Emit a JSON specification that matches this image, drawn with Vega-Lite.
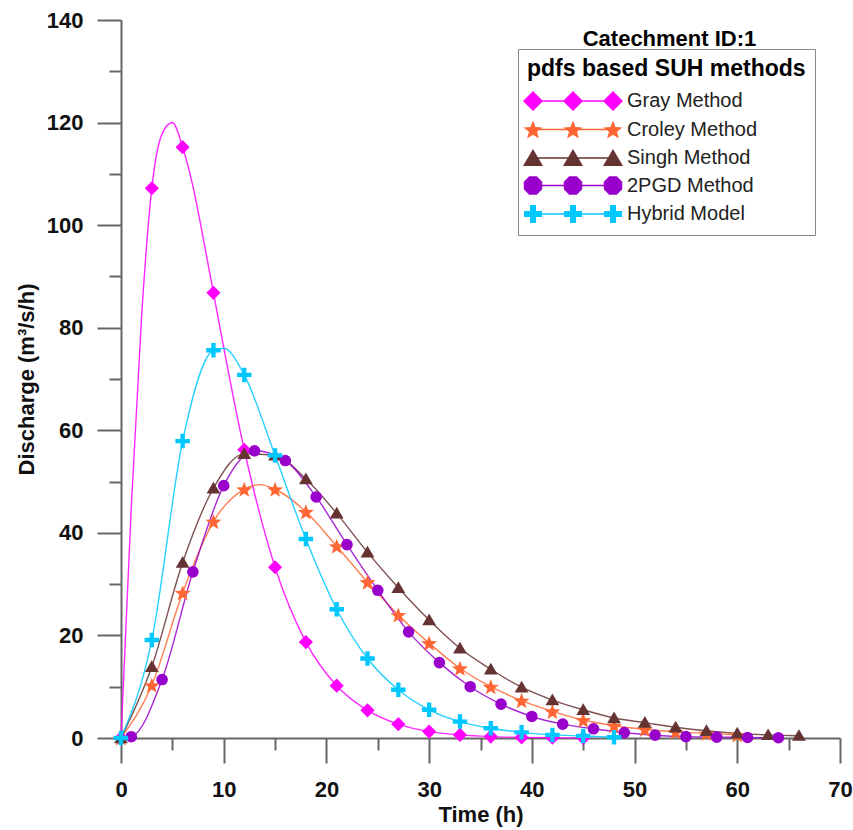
{
  "$schema": "https://vega.github.io/schema/vega-lite/v6.json",
  "width": 719,
  "height": 718,
  "autosize": "none",
  "padding": {"left": 121, "top": 20, "right": 13, "bottom": 92},
  "background": "white",
  "config": {"view": {"stroke": null}, "font": "Liberation Sans"},
  "title": {"text": "Catechment ID:1", "fontSize": 22, "fontWeight": "bold", "font": "Liberation Sans", "color": "#000", "anchor": "middle", "frame": "group", "dx": 189, "offset": -42},
  "data": {"values": [
    {"series": "Gray Method", "t": 0, "q": 0}, {"series": "Gray Method", "t": 1, "q": 45}, {"series": "Gray Method", "t": 2, "q": 82}, {"series": "Gray Method", "t": 3, "q": 107.2}, {"series": "Gray Method", "t": 4, "q": 117.8}, {"series": "Gray Method", "t": 5, "q": 120}, {"series": "Gray Method", "t": 6, "q": 115.2}, {"series": "Gray Method", "t": 7, "q": 107.6}, {"series": "Gray Method", "t": 8, "q": 97.5}, {"series": "Gray Method", "t": 9, "q": 86.8}, {"series": "Gray Method", "t": 12, "q": 56.2}, {"series": "Gray Method", "t": 15, "q": 33.3}, {"series": "Gray Method", "t": 18, "q": 18.7}, {"series": "Gray Method", "t": 21, "q": 10.2}, {"series": "Gray Method", "t": 24, "q": 5.4}, {"series": "Gray Method", "t": 27, "q": 2.7}, {"series": "Gray Method", "t": 30, "q": 1.25}, {"series": "Gray Method", "t": 33, "q": 0.6}, {"series": "Gray Method", "t": 36, "q": 0.27}, {"series": "Gray Method", "t": 39, "q": 0.12}, {"series": "Gray Method", "t": 42, "q": 0.05}, {"series": "Gray Method", "t": 45, "q": 0.02},
    {"series": "Croley Method", "t": 0, "q": 0}, {"series": "Croley Method", "t": 3, "q": 10.3}, {"series": "Croley Method", "t": 6, "q": 28.3}, {"series": "Croley Method", "t": 9, "q": 42.2}, {"series": "Croley Method", "t": 12, "q": 48.5}, {"series": "Croley Method", "t": 13.5, "q": 49.4}, {"series": "Croley Method", "t": 15, "q": 48.5}, {"series": "Croley Method", "t": 18, "q": 44.1}, {"series": "Croley Method", "t": 21, "q": 37.4}, {"series": "Croley Method", "t": 24, "q": 30.4}, {"series": "Croley Method", "t": 27, "q": 24.0}, {"series": "Croley Method", "t": 30, "q": 18.5}, {"series": "Croley Method", "t": 33, "q": 13.6}, {"series": "Croley Method", "t": 36, "q": 10.0}, {"series": "Croley Method", "t": 39, "q": 7.3}, {"series": "Croley Method", "t": 42, "q": 5.2}, {"series": "Croley Method", "t": 45, "q": 3.5}, {"series": "Croley Method", "t": 48, "q": 2.4}, {"series": "Croley Method", "t": 51, "q": 1.7}, {"series": "Croley Method", "t": 54, "q": 1.2}, {"series": "Croley Method", "t": 57, "q": 0.9}, {"series": "Croley Method", "t": 60, "q": 0.6},
    {"series": "Singh Method", "t": 0, "q": 0}, {"series": "Singh Method", "t": 3, "q": 13.9}, {"series": "Singh Method", "t": 6, "q": 34.2}, {"series": "Singh Method", "t": 9, "q": 48.7}, {"series": "Singh Method", "t": 12, "q": 55.4}, {"series": "Singh Method", "t": 15, "q": 55.1}, {"series": "Singh Method", "t": 18, "q": 50.5}, {"series": "Singh Method", "t": 21, "q": 43.8}, {"series": "Singh Method", "t": 24, "q": 36.2}, {"series": "Singh Method", "t": 27, "q": 29.3}, {"series": "Singh Method", "t": 30, "q": 23.0}, {"series": "Singh Method", "t": 33, "q": 17.5}, {"series": "Singh Method", "t": 36, "q": 13.4}, {"series": "Singh Method", "t": 39, "q": 9.9}, {"series": "Singh Method", "t": 42, "q": 7.4}, {"series": "Singh Method", "t": 45, "q": 5.5}, {"series": "Singh Method", "t": 48, "q": 3.9}, {"series": "Singh Method", "t": 51, "q": 3.0}, {"series": "Singh Method", "t": 54, "q": 2.1}, {"series": "Singh Method", "t": 57, "q": 1.4}, {"series": "Singh Method", "t": 60, "q": 0.9}, {"series": "Singh Method", "t": 63, "q": 0.6}, {"series": "Singh Method", "t": 66, "q": 0.45},
    {"series": "2PGD Method", "t": 0, "q": 0}, {"series": "2PGD Method", "t": 1, "q": 0.25}, {"series": "2PGD Method", "t": 4, "q": 11.4}, {"series": "2PGD Method", "t": 7, "q": 32.4}, {"series": "2PGD Method", "t": 10, "q": 49.2}, {"series": "2PGD Method", "t": 13, "q": 56.0}, {"series": "2PGD Method", "t": 16, "q": 54.1}, {"series": "2PGD Method", "t": 19, "q": 47.0}, {"series": "2PGD Method", "t": 22, "q": 37.7}, {"series": "2PGD Method", "t": 25, "q": 28.8}, {"series": "2PGD Method", "t": 28, "q": 20.7}, {"series": "2PGD Method", "t": 31, "q": 14.7}, {"series": "2PGD Method", "t": 34, "q": 10.0}, {"series": "2PGD Method", "t": 37, "q": 6.6}, {"series": "2PGD Method", "t": 40, "q": 4.2}, {"series": "2PGD Method", "t": 43, "q": 2.7}, {"series": "2PGD Method", "t": 46, "q": 1.8}, {"series": "2PGD Method", "t": 49, "q": 1.05}, {"series": "2PGD Method", "t": 52, "q": 0.55}, {"series": "2PGD Method", "t": 55, "q": 0.26}, {"series": "2PGD Method", "t": 58, "q": 0.18}, {"series": "2PGD Method", "t": 61, "q": 0.1}, {"series": "2PGD Method", "t": 64, "q": 0.05},
    {"series": "Hybrid Model", "t": 0, "q": 0}, {"series": "Hybrid Model", "t": 3, "q": 19.1}, {"series": "Hybrid Model", "t": 6, "q": 57.9}, {"series": "Hybrid Model", "t": 9, "q": 75.6}, {"series": "Hybrid Model", "t": 10, "q": 76.0}, {"series": "Hybrid Model", "t": 12, "q": 70.8}, {"series": "Hybrid Model", "t": 15, "q": 55.1}, {"series": "Hybrid Model", "t": 18, "q": 38.8}, {"series": "Hybrid Model", "t": 21, "q": 25.1}, {"series": "Hybrid Model", "t": 24, "q": 15.5}, {"series": "Hybrid Model", "t": 27, "q": 9.4}, {"series": "Hybrid Model", "t": 30, "q": 5.5}, {"series": "Hybrid Model", "t": 33, "q": 3.2}, {"series": "Hybrid Model", "t": 36, "q": 1.9}, {"series": "Hybrid Model", "t": 39, "q": 1.1}, {"series": "Hybrid Model", "t": 42, "q": 0.6}, {"series": "Hybrid Model", "t": 45, "q": 0.4}, {"series": "Hybrid Model", "t": 48, "q": 0.15}
  ]},
  "layer": [
    {
      "mark": {"type": "line", "interpolate": "monotone", "strokeWidth": 1.4, "opacity": 0.85},
      "encoding": {
        "x": {"field": "t", "type": "quantitative", "scale": {"domain": [0, 70], "nice": false, "zero": true},
          "axis": {"orient": "bottom", "values": [0, 10, 20, 30, 40, 50, 60, 70], "tickSize": 25, "labelPadding": 16, "labelFontSize": 22, "labelFontWeight": "bold", "labelColor": "#111", "labelFont": "Liberation Sans", "domainColor": "#666", "domainWidth": 2, "tickColor": "#666", "tickWidth": 2, "grid": false, "title": "Time (h)", "titleFontSize": 22, "titleFontWeight": "bold", "titleColor": "#111", "titleFont": "Liberation Sans", "titlePadding": 4, "labelFlush": false}},
        "y": {"field": "q", "type": "quantitative", "scale": {"domain": [0, 140], "nice": false, "zero": true},
          "axis": {"orient": "left", "values": [0, 20, 40, 60, 80, 100, 120, 140], "tickSize": 24, "labelPadding": 14, "labelFontSize": 22, "labelFontWeight": "bold", "labelColor": "#111", "labelFont": "Liberation Sans", "domainColor": "#666", "domainWidth": 2, "tickColor": "#666", "tickWidth": 2, "grid": false, "title": "Discharge (m³/s/h)", "titleFontSize": 22, "titleFontWeight": "bold", "titleColor": "#111", "titleFont": "Liberation Sans", "titlePadding": 8, "labelFlush": false}},
        "stroke": {"field": "series", "type": "nominal",
          "scale": {"domain": ["Hybrid Model", "2PGD Method", "Singh Method", "Croley Method", "Gray Method"], "range": ["#00C8FF", "#9900CC", "#663333", "#FF6633", "#FF00FF"]},
          "legend": null}
      }
    },
    {
      "mark": {"type": "point", "filled": true, "opacity": 0, "size": 400, "strokeWidth": 0},
      "encoding": {
        "x": {"field": "t", "type": "quantitative", "scale": {"domain": [0, 70], "nice": false, "zero": true}, "axis": null},
        "y": {"field": "q", "type": "quantitative", "scale": {"domain": [0, 140], "nice": false, "zero": true}, "axis": null},
        "color": {"field": "series", "type": "nominal",
          "scale": {"domain": ["Gray Method", "Croley Method", "Singh Method", "2PGD Method", "Hybrid Model"], "range": ["#FF00FF", "#FF6633", "#663333", "#9900CC", "#00C8FF"]},
          "legend": {"title": "pdfs based SUH methods", "orient": "none", "legendX": 397, "legendY": 29, "direction": "vertical", "padding": 9, "strokeColor": "#888", "fillColor": "white", "titleFontSize": 23, "titleFontWeight": "bold", "titleColor": "#000", "titleFont": "Liberation Sans", "titlePadding": 9, "titleLimit": 500, "labelFontSize": 20, "labelFont": "Liberation Sans", "labelColor": "#222", "labelOffset": 78, "symbolSize": 400, "symbolOpacity": 1, "rowPadding": 3.5, "labelLimit": 300}},
        "shape": {"field": "series", "type": "nominal",
          "scale": {"domain": ["Gray Method", "Croley Method", "Singh Method", "2PGD Method", "Hybrid Model"],
            "range": [
              "M-0.5,-0.07L7.5,-0.07L7.5,0.07L-0.5,0.07ZM-1.5,0L-0.5,-1L0.5,0L-0.5,1ZM2.5,0L3.5,-1L4.5,0L3.5,1ZM6.5,0L7.5,-1L8.5,0L7.5,1Z",
              "M-0.5,-0.07L7.5,-0.07L7.5,0.07L-0.5,0.07ZM-0.5,-0.9L-0.253,-0.24L0.451,-0.209L-0.1,0.23L0.088,0.909L-0.5,0.52L-1.088,0.909L-0.9,0.23L-1.451,-0.209L-0.747,-0.24ZM3.5,-0.9L3.747,-0.24L4.451,-0.209L3.9,0.23L4.088,0.909L3.5,0.52L2.912,0.909L3.1,0.23L2.549,-0.209L3.253,-0.24ZM7.5,-0.9L7.747,-0.24L8.451,-0.209L7.9,0.23L8.088,0.909L7.5,0.52L6.912,0.909L7.1,0.23L6.549,-0.209L7.253,-0.24Z",
              "M-0.5,-0.07L7.5,-0.07L7.5,0.07L-0.5,0.07ZM-1.5,0.8L-0.5,-0.9L0.5,0.8ZM2.5,0.8L3.5,-0.9L4.5,0.8ZM6.5,0.8L7.5,-0.9L8.5,0.8Z",
              "M-0.5,-0.07L7.5,-0.07L7.5,0.07L-0.5,0.07ZM0.424,0.383L-0.117,0.924L-0.883,0.924L-1.424,0.383L-1.424,-0.383L-0.883,-0.924L-0.117,-0.924L0.424,-0.383ZM4.424,0.383L3.883,0.924L3.117,0.924L2.576,0.383L2.576,-0.383L3.117,-0.924L3.883,-0.924L4.424,-0.383ZM8.424,0.383L7.883,0.924L7.117,0.924L6.576,0.383L6.576,-0.383L7.117,-0.924L7.883,-0.924L8.424,-0.383Z",
              "M-0.5,-0.07L7.5,-0.07L7.5,0.07L-0.5,0.07ZM-0.8,-0.9L-0.2,-0.9L-0.2,-0.3L0.4,-0.3L0.4,0.3L-0.2,0.3L-0.2,0.9L-0.8,0.9L-0.8,0.3L-1.4,0.3L-1.4,-0.3L-0.8,-0.3ZM3.2,-0.9L3.8,-0.9L3.8,-0.3L4.4,-0.3L4.4,0.3L3.8,0.3L3.8,0.9L3.2,0.9L3.2,0.3L2.6,0.3L2.6,-0.3L3.2,-0.3ZM7.2,-0.9L7.8,-0.9L7.8,-0.3L8.4,-0.3L8.4,0.3L7.8,0.3L7.8,0.9L7.2,0.9L7.2,0.3L6.6,0.3L6.6,-0.3L7.2,-0.3Z"
            ]},
          "legend": {"title": "pdfs based SUH methods", "orient": "none", "legendX": 397, "legendY": 29, "direction": "vertical", "padding": 9, "strokeColor": "#888", "fillColor": "white", "titleFontSize": 23, "titleFontWeight": "bold", "titleColor": "#000", "titleFont": "Liberation Sans", "titlePadding": 9, "titleLimit": 500, "labelFontSize": 20, "labelFont": "Liberation Sans", "labelColor": "#222", "labelOffset": 78, "symbolSize": 400, "symbolOpacity": 1, "rowPadding": 3.5, "labelLimit": 300}}
      }
    },
    {
      "transform": [{"filter": "datum.series === 'Gray Method' && datum.t % 3 === 0"}],
      "mark": {"type": "point", "filled": true, "opacity": 1, "strokeWidth": 0, "shape": "diamond", "size": 200, "color": "#FF00FF"},
      "encoding": {
        "x": {"field": "t", "type": "quantitative", "scale": {"domain": [0, 70], "nice": false, "zero": true},
          "axis": {"orient": "bottom", "values": [5, 15, 25, 35, 45, 55, 65], "tickSize": 12, "labels": false, "domain": false, "grid": false, "title": null, "tickColor": "#666", "tickWidth": 2}},
        "y": {"field": "q", "type": "quantitative", "scale": {"domain": [0, 140], "nice": false, "zero": true},
          "axis": {"orient": "left", "values": [10, 30, 50, 70, 90, 110, 130], "tickSize": 12, "labels": false, "domain": false, "grid": false, "title": null, "tickColor": "#666", "tickWidth": 2}}
      }
    },
    {
      "transform": [{"filter": "datum.series === 'Croley Method' && datum.t % 3 === 0"}],
      "mark": {"type": "point", "filled": true, "opacity": 1, "strokeWidth": 0, "shape": "M0,-0.9L0.247,-0.24L0.951,-0.209L0.4,0.23L0.588,0.909L0,0.52L-0.588,0.909L-0.4,0.23L-0.951,-0.209L-0.247,-0.24Z", "size": 280, "color": "#FF6633"},
      "encoding": {
        "x": {"field": "t", "type": "quantitative", "scale": {"domain": [0, 70], "nice": false, "zero": true}, "axis": null},
        "y": {"field": "q", "type": "quantitative", "scale": {"domain": [0, 140], "nice": false, "zero": true}, "axis": null}
      }
    },
    {
      "transform": [{"filter": "datum.series === 'Singh Method' && datum.t % 3 === 0"}],
      "mark": {"type": "point", "filled": true, "opacity": 1, "strokeWidth": 0, "shape": "M-1,0.75L0,-0.95L1,0.75Z", "size": 190, "color": "#663333"},
      "encoding": {
        "x": {"field": "t", "type": "quantitative", "scale": {"domain": [0, 70], "nice": false, "zero": true}, "axis": null},
        "y": {"field": "q", "type": "quantitative", "scale": {"domain": [0, 140], "nice": false, "zero": true}, "axis": null}
      }
    },
    {
      "transform": [{"filter": "datum.series === '2PGD Method' && datum.t % 3 === 1"}],
      "mark": {"type": "point", "filled": true, "opacity": 1, "strokeWidth": 0, "shape": "circle", "size": 135, "color": "#9900CC"},
      "encoding": {
        "x": {"field": "t", "type": "quantitative", "scale": {"domain": [0, 70], "nice": false, "zero": true}, "axis": null},
        "y": {"field": "q", "type": "quantitative", "scale": {"domain": [0, 140], "nice": false, "zero": true}, "axis": null}
      }
    },
    {
      "transform": [{"filter": "datum.series === 'Hybrid Model' && datum.t % 3 === 0"}],
      "mark": {"type": "point", "filled": true, "opacity": 1, "strokeWidth": 0, "shape": "M-0.3,-1L0.3,-1L0.3,-0.3L1,-0.3L1,0.3L0.3,0.3L0.3,1L-0.3,1L-0.3,0.3L-1,0.3L-1,-0.3L-0.3,-0.3Z", "size": 210, "color": "#00C8FF"},
      "encoding": {
        "x": {"field": "t", "type": "quantitative", "scale": {"domain": [0, 70], "nice": false, "zero": true}, "axis": null},
        "y": {"field": "q", "type": "quantitative", "scale": {"domain": [0, 140], "nice": false, "zero": true}, "axis": null}
      }
    }
  ],
  "resolve": {"axis": {"x": "independent", "y": "independent"}}
}
